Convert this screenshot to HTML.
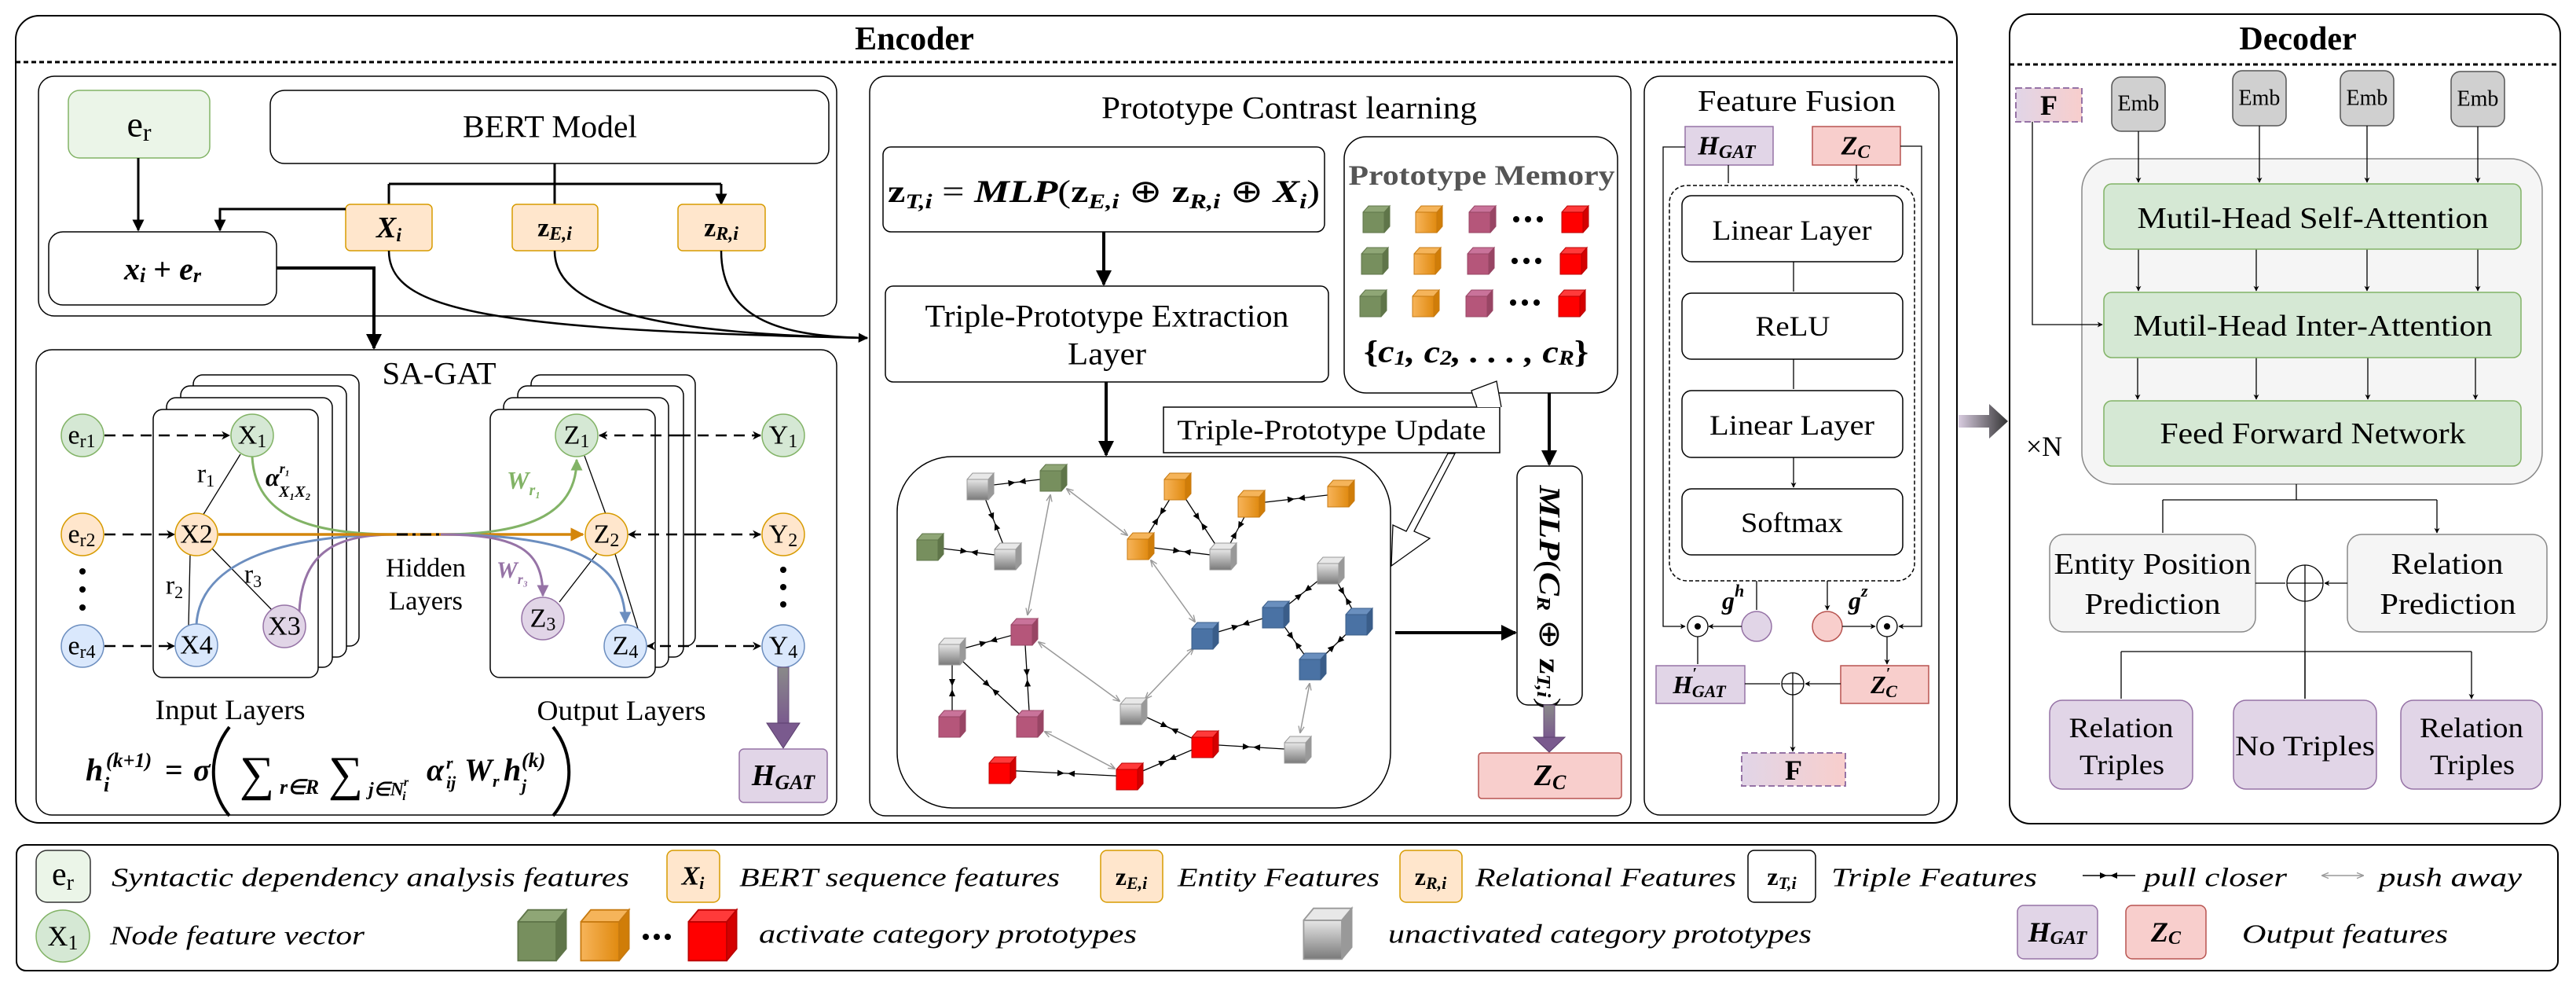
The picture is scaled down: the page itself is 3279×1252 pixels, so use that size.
<!DOCTYPE html>
<html><head><meta charset="utf-8"><style>
html,body{margin:0;padding:0;background:#fff}
svg{display:block}
text{font-family:"Liberation Serif",serif;fill:#000}
.m{font-style:italic;font-weight:bold}
</style></head><body>
<svg width="3279" height="1252" viewBox="0 0 3279 1252" xmlns="http://www.w3.org/2000/svg">
<defs>
<marker id="ab" viewBox="0 0 10 10" refX="9" refY="5" markerWidth="5" markerHeight="5" orient="auto"><path d="M0,0L10,5L0,10z" fill="#000"/></marker>
<marker id="as" viewBox="0 0 10 10" refX="9" refY="5" markerWidth="7" markerHeight="7" markerUnits="userSpaceOnUse" orient="auto"><path d="M0,0L10,5L0,10L3,5z" fill="#000"/></marker>
<marker id="ad" viewBox="0 0 10 10" refX="9" refY="5" markerWidth="11" markerHeight="11" markerUnits="userSpaceOnUse" orient="auto"><path d="M0,0L10,5L0,10L3,5z" fill="#000"/></marker>
<marker id="ag" viewBox="0 0 10 10" refX="9" refY="5" markerWidth="5" markerHeight="5" orient="auto"><path d="M0,0L10,5L0,10z" fill="#82b366"/></marker>
<marker id="ao" viewBox="0 0 10 10" refX="9" refY="5" markerWidth="5" markerHeight="5" orient="auto"><path d="M0,0L10,5L0,10z" fill="#d4860b"/></marker>
<marker id="abl" viewBox="0 0 10 10" refX="9" refY="5" markerWidth="5" markerHeight="5" orient="auto"><path d="M0,0L10,5L0,10z" fill="#6c8ebf"/></marker>
<marker id="ap" viewBox="0 0 10 10" refX="9" refY="5" markerWidth="5" markerHeight="5" orient="auto"><path d="M0,0L10,5L0,10z" fill="#9673a6"/></marker>
<marker id="pull" viewBox="-12 -5 24 10" refX="0" refY="0" markerWidth="24" markerHeight="10" markerUnits="userSpaceOnUse" orient="auto"><path d="M-11,-4L-2,0L-11,4z M11,-4L2,0L11,4z" fill="#000"/></marker>
<marker id="gp" viewBox="0 0 10 10" refX="9" refY="5" markerWidth="9" markerHeight="9" markerUnits="userSpaceOnUse" orient="auto-start-reverse"><path d="M0,1L10,5L0,9" fill="none" stroke="#999" stroke-width="1.5"/></marker>
<linearGradient id="gGray" x1="0" y1="0" x2="0" y2="1"><stop offset="0" stop-color="#e6e6e6"/><stop offset="1" stop-color="#7a7a7a"/></linearGradient>
<linearGradient id="gOr" x1="0" y1="0" x2="1" y2="0"><stop offset="0" stop-color="#f7b45a"/><stop offset="1" stop-color="#e08a10"/></linearGradient>
<linearGradient id="gF" x1="0" y1="0" x2="1" y2="0"><stop offset="0" stop-color="#e1d5e7"/><stop offset="1" stop-color="#f8cecc"/></linearGradient>
<linearGradient id="gArr" x1="0" y1="0" x2="0" y2="1"><stop offset="0" stop-color="#8a8a8a"/><stop offset="1" stop-color="#7a5a8e"/></linearGradient>
<linearGradient id="gDec" x1="0" y1="0" x2="1" y2="0"><stop offset="0" stop-color="#d8cce0"/><stop offset="1" stop-color="#333"/></linearGradient>
<g id="cG"><path d="M-17,-9h27v26h-27z" fill="#778f5e"/><path d="M-17,-9l7,-8h27l-7,8z" fill="#8fa676"/><path d="M10,-9l7,-8v26l-7,8z" fill="#5f7549"/><path d="M-17,-9h27v26h-27zM-17,-9l7,-8h27l-7,8M10,-9l7,-8v26l-7,8" fill="none" stroke="#5f7549" stroke-width="1"/></g>
<g id="cO"><path d="M-17,-9h27v26h-27z" fill="url(#gOr)"/><path d="M-17,-9l7,-8h27l-7,8z" fill="#f5b45a"/><path d="M10,-9l7,-8v26l-7,8z" fill="#d07d08"/><path d="M-17,-9h27v26h-27zM-17,-9l7,-8h27l-7,8M10,-9l7,-8v26l-7,8" fill="none" stroke="#c77a10" stroke-width="1"/></g>
<g id="cP"><path d="M-17,-9h27v26h-27z" fill="#b5567a"/><path d="M-17,-9l7,-8h27l-7,8z" fill="#c9739a"/><path d="M10,-9l7,-8v26l-7,8z" fill="#984564"/><path d="M-17,-9h27v26h-27zM-17,-9l7,-8h27l-7,8M10,-9l7,-8v26l-7,8" fill="none" stroke="#984564" stroke-width="1"/></g>
<g id="cR"><path d="M-17,-9h27v26h-27z" fill="#ff0000"/><path d="M-17,-9l7,-8h27l-7,8z" fill="#ff3a3a"/><path d="M10,-9l7,-8v26l-7,8z" fill="#d40000"/><path d="M-17,-9h27v26h-27zM-17,-9l7,-8h27l-7,8M10,-9l7,-8v26l-7,8" fill="none" stroke="#b00" stroke-width="1"/></g>
<g id="cB"><path d="M-17,-9h27v26h-27z" fill="#4a72a4"/><path d="M-17,-9l7,-8h27l-7,8z" fill="#6a8fbe"/><path d="M10,-9l7,-8v26l-7,8z" fill="#3a5d89"/><path d="M-17,-9h27v26h-27zM-17,-9l7,-8h27l-7,8M10,-9l7,-8v26l-7,8" fill="none" stroke="#3a5d89" stroke-width="1"/></g>
<g id="cY"><path d="M-17,-9h27v26h-27z" fill="url(#gGray)"/><path d="M-17,-9l7,-8h27l-7,8z" fill="#e8e8e8"/><path d="M10,-9l7,-8v26l-7,8z" fill="#999"/><path d="M-17,-9h27v26h-27zM-17,-9l7,-8h27l-7,8M10,-9l7,-8v26l-7,8" fill="none" stroke="#999" stroke-width="1"/></g>
</defs>

<!-- ENCODER -->
<rect x="20" y="20" width="2471" height="1027" rx="30" fill="#fff" stroke="#000" stroke-width="2"/>
<line x1="20" y1="79" x2="2491" y2="79" stroke="#000" stroke-width="3" stroke-dasharray="6,4"/>
<text x="1164" y="50" font-size="42" font-weight="bold" text-anchor="middle" dominant-baseline="central">Encoder</text>

<!-- top inner -->
<rect x="49" y="97" width="1016" height="305" rx="20" fill="none" stroke="#000" stroke-width="1.5"/>
<rect x="87" y="115" width="180" height="86" rx="14" fill="#ebf5e8" stroke="#82b366" stroke-width="1.5"/>
<text x="177" y="158" font-size="46" text-anchor="middle" dominant-baseline="central">e<tspan font-size="32" dy="10">r</tspan></text>
<rect x="344" y="115" width="711" height="93" rx="18" fill="#fff" stroke="#000" stroke-width="1.5"/>
<text x="700" y="161" font-size="40" text-anchor="middle" dominant-baseline="central" textLength="222" lengthAdjust="spacingAndGlyphs">BERT Model</text>
<path d="M706,208V234M495,234H918M495,234V258M706,234V258M918,234V258" fill="none" stroke="#000" stroke-width="3"/>
<path d="M495,234V260M706,234V260M918,234V260" stroke="#000" stroke-width="3" marker-end="url(#ab)"/>
<rect x="440" y="260" width="110" height="59" rx="6" fill="#ffe6cc" stroke="#d79b00" stroke-width="1.5"/>
<text x="495" y="290" font-size="38" class="m" text-anchor="middle" dominant-baseline="central">X<tspan font-size="24" dy="10">i</tspan></text>
<rect x="652" y="260" width="109" height="59" rx="6" fill="#ffe6cc" stroke="#d79b00" stroke-width="1.5"/>
<text x="706" y="290" font-size="34" font-weight="bold" text-anchor="middle" dominant-baseline="central">z<tspan font-size="24" font-style="italic" dy="8">E,i</tspan></text>
<rect x="863" y="260" width="111" height="59" rx="6" fill="#ffe6cc" stroke="#d79b00" stroke-width="1.5"/>
<text x="918" y="290" font-size="34" font-weight="bold" text-anchor="middle" dominant-baseline="central">z<tspan font-size="24" font-style="italic" dy="8">R,i</tspan></text>
<rect x="62" y="295" width="290" height="93" rx="18" fill="#fff" stroke="#000" stroke-width="1.5"/>
<text x="207" y="342" font-size="40" class="m" text-anchor="middle" dominant-baseline="central">x<tspan font-size="26" dy="8">i</tspan><tspan dy="-8" font-style="normal"> + </tspan>e<tspan font-size="26" dy="8">r</tspan></text>
<path d="M176,201V293" stroke="#000" stroke-width="3" marker-end="url(#ab)"/>
<path d="M440,266H280V293" fill="none" stroke="#000" stroke-width="3" marker-end="url(#ab)"/>
<path d="M352,341H476V443" fill="none" stroke="#000" stroke-width="4" marker-end="url(#ab)"/>
<path d="M495,319C495,395 620,420 1104,430" fill="none" stroke="#000" stroke-width="2.5"/>
<path d="M706,319C706,400 860,425 1104,430" fill="none" stroke="#000" stroke-width="2.5"/>
<path d="M918,319C918,410 1000,428 1104,430" fill="none" stroke="#000" stroke-width="2.5" marker-end="url(#ab)"/>

<!-- SA-GAT -->
<rect x="46" y="445" width="1019" height="592" rx="20" fill="none" stroke="#000" stroke-width="1.5"/>
<text x="559" y="475" font-size="40" text-anchor="middle" dominant-baseline="central" textLength="145" lengthAdjust="spacingAndGlyphs">SA-GAT</text>
<g fill="#fff" stroke="#000" stroke-width="1.5">
<rect x="246" y="477" width="211" height="345" rx="12"/>
<rect x="230" y="491" width="211" height="345" rx="12"/>
<rect x="212" y="506" width="211" height="343" rx="12"/>
<rect x="195" y="521" width="210" height="341" rx="12"/>
<rect x="676" y="477" width="209" height="345" rx="12"/>
<rect x="659" y="491" width="211" height="345" rx="12"/>
<rect x="641" y="506" width="210" height="343" rx="12"/>
<rect x="624" y="521" width="210" height="341" rx="12"/>
</g>
<!-- graph lines -->
<g stroke="#000" stroke-width="1.3" fill="none">
<line x1="306" y1="578" x2="258" y2="656"/>
<line x1="242" y1="706" x2="240" y2="797"/>
<line x1="270" y1="698" x2="346" y2="776"/>
<line x1="744" y1="580" x2="771" y2="654"/>
<line x1="760" y1="704" x2="712" y2="766"/>
<line x1="783" y1="705" x2="812" y2="800"/>
</g>
<path d="M321,581C325,660 400,680 505,680" fill="none" stroke="#82b366" stroke-width="3"/>
<path d="M250,795C255,700 400,680 505,680" fill="none" stroke="#6c8ebf" stroke-width="3"/>
<path d="M381,778C385,700 430,680 505,680" fill="none" stroke="#9673a6" stroke-width="3"/>
<path d="M278,680H742" stroke="#d4860b" stroke-width="3.5" marker-end="url(#ao)"/>
<path d="M561,680C680,680 734,650 734,585" fill="none" stroke="#82b366" stroke-width="3" marker-end="url(#ag)"/>
<path d="M561,680C740,680 796,720 796,792" fill="none" stroke="#6c8ebf" stroke-width="3" marker-end="url(#abl)"/>
<path d="M561,680C660,680 691,700 691,758" fill="none" stroke="#9673a6" stroke-width="3" marker-end="url(#ap)"/>
<line x1="505" y1="680" x2="561" y2="680" stroke="#000" stroke-width="3" stroke-dasharray="14,6,4,6"/>
<!-- dashed arrows -->
<g stroke="#000" stroke-width="2.5" stroke-dasharray="14,9" fill="none">
<path d="M133,554H292" marker-end="url(#ad)"/>
<path d="M133,680H222" marker-end="url(#ad)"/>
<path d="M133,822H222" marker-end="url(#ad)"/>
<path d="M865,554H968" marker-end="url(#ad)"/><path d="M865,554H763" marker-end="url(#ad)"/>
<path d="M885,680H968" marker-end="url(#ad)"/><path d="M885,680H800" marker-end="url(#ad)"/>
<path d="M900,822H968" marker-end="url(#ad)"/><path d="M900,822H824" marker-end="url(#ad)"/>
</g>
<g stroke-width="1.5">
<circle cx="105" cy="554" r="27" fill="#d5e8d4" stroke="#82b366"/>
<circle cx="105" cy="680" r="27" fill="#ffe6cc" stroke="#d79b00"/>
<circle cx="105" cy="822" r="27" fill="#dae8fc" stroke="#6c8ebf"/>
<circle cx="321" cy="554" r="27" fill="#d5e8d4" stroke="#82b366"/>
<circle cx="250" cy="680" r="27" fill="#ffe6cc" stroke="#d79b00"/>
<circle cx="250" cy="821" r="27" fill="#dae8fc" stroke="#6c8ebf"/>
<circle cx="362" cy="797" r="27" fill="#e1d5e7" stroke="#9673a6"/>
<circle cx="734" cy="554" r="27" fill="#d5e8d4" stroke="#82b366"/>
<circle cx="772" cy="680" r="27" fill="#ffe6cc" stroke="#d79b00"/>
<circle cx="691" cy="787" r="27" fill="#e1d5e7" stroke="#9673a6"/>
<circle cx="796" cy="822" r="27" fill="#dae8fc" stroke="#6c8ebf"/>
<circle cx="997" cy="554" r="27" fill="#d5e8d4" stroke="#82b366"/>
<circle cx="997" cy="680" r="27" fill="#ffe6cc" stroke="#d79b00"/>
<circle cx="997" cy="822" r="27" fill="#dae8fc" stroke="#6c8ebf"/>
</g>
<g font-size="34" text-anchor="middle" dominant-baseline="central">
<text x="104" y="554">e<tspan font-size="24" dy="8">r1</tspan></text>
<text x="104" y="680">e<tspan font-size="24" dy="8">r2</tspan></text>
<text x="104" y="822">e<tspan font-size="24" dy="8">r4</tspan></text>
<text x="321" y="554">X<tspan font-size="24" dy="8">1</tspan></text>
<text x="250" y="680">X2</text>
<text x="250" y="821">X4</text>
<text x="362" y="797">X3</text>
<text x="734" y="554">Z<tspan font-size="24" dy="8">1</tspan></text>
<text x="772" y="680">Z<tspan font-size="24" dy="8">2</tspan></text>
<text x="691" y="787">Z<tspan font-size="24" dy="8">3</tspan></text>
<text x="796" y="822">Z<tspan font-size="24" dy="8">4</tspan></text>
<text x="997" y="554">Y<tspan font-size="24" dy="8">1</tspan></text>
<text x="997" y="680">Y<tspan font-size="24" dy="8">2</tspan></text>
<text x="997" y="822">Y<tspan font-size="24" dy="8">4</tspan></text>
<text x="262" y="603">r<tspan font-size="22" dy="8">1</tspan></text>
<text x="222" y="745">r<tspan font-size="22" dy="8">2</tspan></text>
<text x="322" y="731">r<tspan font-size="22" dy="8">3</tspan></text>
<text x="542" y="723" textLength="102" lengthAdjust="spacingAndGlyphs">Hidden</text>
<text x="542" y="765" textLength="94" lengthAdjust="spacingAndGlyphs">Layers</text>
<text x="293" y="903" font-size="36" textLength="191" lengthAdjust="spacingAndGlyphs">Input Layers</text>
<text x="791" y="904" font-size="36" textLength="215" lengthAdjust="spacingAndGlyphs">Output Layers</text>
</g>
<g fill="#000"><circle cx="105" cy="727" r="4"/><circle cx="105" cy="750" r="4"/><circle cx="105" cy="773" r="4"/><circle cx="997" cy="725" r="4"/><circle cx="997" cy="747" r="4"/><circle cx="997" cy="769" r="4"/></g>
<text x="338" y="618" font-size="32" class="m">α<tspan font-size="18" dy="-16">r₁</tspan><tspan font-size="20" dx="-14" dy="30">X₁X₂</tspan></text>
<text x="645" y="622" font-size="32" class="m" fill="#82b366" style="fill:#82b366">W<tspan font-size="20" dy="8">r₁</tspan></text>
<text x="632" y="735" font-size="30" class="m" style="fill:#9673a6">W<tspan font-size="18" dy="8">r₃</tspan></text>
<!-- Y4 to HGAT arrow -->
<rect x="990" y="849" width="14" height="72" fill="url(#gArr)" stroke="#6b4f7e" stroke-width="1"/>
<path d="M976,920H1018L997,952z" fill="#7a5a8e" stroke="#5b3f6e" stroke-width="1"/>
<rect x="941" y="953" width="112" height="68" rx="6" fill="#e1d5e7" stroke="#9673a6" stroke-width="1.5"/>
<text x="997" y="987" font-size="38" class="m" text-anchor="middle" dominant-baseline="central">H<tspan font-size="26" dy="8">GAT</tspan></text>
<!-- formula -->
<g class="m" font-size="40">
<text x="109" y="993">h</text>
<text x="135" y="976" font-size="26">(k+1)</text>
<text x="132" y="1007" font-size="26">i</text>
<text x="210" y="993" font-style="normal">=</text>
<text x="246" y="993">σ</text>
<path d="M292,925C265,960 265,1005 292,1038" fill="none" stroke="#000" stroke-width="4"/>
<text x="305" y="1005" font-size="62" font-style="normal" font-weight="normal">∑</text>
<text x="356" y="1010" font-size="26">r∈R</text>
<text x="418" y="1005" font-size="62" font-style="normal" font-weight="normal">∑</text>
<text x="469" y="1012" font-size="24">j∈N<tspan font-size="16" dy="-12">r</tspan><tspan font-size="16" dx="-8" dy="18">i</tspan></text>
<text x="543" y="993">α</text>
<text x="568" y="978" font-size="22">r</text>
<text x="568" y="1003" font-size="22">ij</text>
<text x="591" y="993">W</text>
<text x="627" y="1001" font-size="22">r</text>
<text x="641" y="993">h</text>
<text x="664" y="976" font-size="26">(k)</text>
<text x="664" y="1007" font-size="22">j</text>
<path d="M704,925C731,960 731,1005 704,1038" fill="none" stroke="#000" stroke-width="4"/>
</g>

<!-- PROTOTYPE CONTRAST LEARNING -->
<rect x="1107" y="97" width="969" height="941" rx="20" fill="none" stroke="#000" stroke-width="1.5"/>
<text x="1641" y="137" font-size="40" text-anchor="middle" dominant-baseline="central" textLength="478" lengthAdjust="spacingAndGlyphs">Prototype Contrast learning</text>
<rect x="1124" y="187" width="562" height="108" rx="10" fill="#fff" stroke="#000" stroke-width="1.5"/>
<text x="1130" y="257" font-size="40" font-weight="bold" textLength="550" lengthAdjust="spacingAndGlyphs">z<tspan class="m" font-size="26" dy="8">T,i</tspan><tspan dy="-8" font-weight="normal"> = </tspan><tspan class="m">MLP</tspan><tspan font-weight="normal">(</tspan>z<tspan class="m" font-size="26" dy="8">E,i</tspan><tspan dy="-8" font-weight="normal"> ⊕ </tspan>z<tspan class="m" font-size="26" dy="8">R,i</tspan><tspan dy="-8" font-weight="normal"> ⊕ </tspan><tspan class="m">X</tspan><tspan class="m" font-size="26" dy="8">i</tspan><tspan dy="-8" font-weight="normal">)</tspan></text>
<path d="M1405,295V362" stroke="#000" stroke-width="4" marker-end="url(#ab)"/>
<rect x="1127" y="364" width="564" height="122" rx="10" fill="#fff" stroke="#000" stroke-width="1.5"/>
<text x="1409" y="402" font-size="40" text-anchor="middle" dominant-baseline="central" textLength="463" lengthAdjust="spacingAndGlyphs">Triple-Prototype Extraction</text>
<text x="1409" y="450" font-size="40" text-anchor="middle" dominant-baseline="central" textLength="100" lengthAdjust="spacingAndGlyphs">Layer</text>
<path d="M1408,486V579" stroke="#000" stroke-width="4" marker-end="url(#ab)"/>
<!-- memory -->
<rect x="1711" y="174" width="348" height="326" rx="28" fill="#fff" stroke="#000" stroke-width="1.5"/>
<text x="1886" y="223" font-size="36" font-weight="bold" style="fill:#555" text-anchor="middle" dominant-baseline="central" textLength="339" lengthAdjust="spacingAndGlyphs">Prototype Memory</text>
<use href="#cG" x="1752" y="279"/><use href="#cO" x="1819" y="279"/><use href="#cP" x="1887" y="279"/><use href="#cR" x="2005" y="279"/>
<use href="#cG" x="1750" y="332"/><use href="#cO" x="1817" y="332"/><use href="#cP" x="1885" y="332"/><use href="#cR" x="2003" y="332"/>
<use href="#cG" x="1748" y="386"/><use href="#cO" x="1815" y="386"/><use href="#cP" x="1883" y="386"/><use href="#cR" x="2001" y="386"/>
<g fill="#000"><circle cx="1930" cy="279" r="4"/><circle cx="1945" cy="279" r="4"/><circle cx="1960" cy="279" r="4"/><circle cx="1928" cy="332" r="4"/><circle cx="1943" cy="332" r="4"/><circle cx="1958" cy="332" r="4"/><circle cx="1926" cy="385" r="4"/><circle cx="1941" cy="385" r="4"/><circle cx="1956" cy="385" r="4"/></g>
<text x="1879" y="447" font-size="40" class="m" text-anchor="middle" dominant-baseline="central" textLength="286" lengthAdjust="spacingAndGlyphs"><tspan font-style="normal">{</tspan>c<tspan font-size="26" dy="8">1</tspan><tspan dy="-8">, c</tspan><tspan font-size="26" dy="8">2</tspan><tspan dy="-8">, . . . , c</tspan><tspan font-size="26" dy="8">R</tspan><tspan dy="-8" font-style="normal">}</tspan></text>
<path d="M1972,500V591" stroke="#000" stroke-width="4" marker-end="url(#ab)"/>
<!-- update box -->
<rect x="1481" y="518" width="428" height="58" fill="#fff" stroke="#000" stroke-width="1.5"/>
<text x="1695" y="547" font-size="36" text-anchor="middle" dominant-baseline="central" textLength="393" lengthAdjust="spacingAndGlyphs">Triple-Prototype Update</text>
<path d="M1880,518L1875,504L1873,497L1905,485L1911,518" fill="#fff" stroke="#000" stroke-width="1.3"/>
<path d="M1852,577L1800,676L1820,685L1771,720L1773,668L1790,676L1843,577z" fill="#fff" stroke="#000" stroke-width="1.3"/>
<!-- graph box -->
<rect x="1142" y="581" width="628" height="447" rx="70" fill="none" stroke="#000" stroke-width="1.5"/>
<g stroke="#000" stroke-width="1.3" fill="none" marker-mid="url(#pull)">
<polyline points="1248,619 1294.5,613.5 1341,608"/>
<polyline points="1248,619 1265.5,663.5 1283,708"/>
<polyline points="1184,696 1233.5,702 1283,708"/>
<polyline points="1499,619 1475.5,657 1452,695"/>
<polyline points="1499,619 1528,663.5 1557,708"/>
<polyline points="1593,641 1575,674.5 1557,708"/>
<polyline points="1593,641 1650,634.5 1707,628"/>
<polyline points="1452,695 1504.5,701.5 1557,708"/>
<polyline points="1694,726 1659,754 1624,782"/>
<polyline points="1694,726 1712,758.5 1730,791"/>
<polyline points="1624,782 1579,795.5 1534,809"/>
<polyline points="1624,782 1647.5,815 1671,848"/>
<polyline points="1730,791 1700.5,819.5 1671,848"/>
<polyline points="1304,804 1258,816.5 1212,829"/>
<polyline points="1304,804 1307.5,862.5 1311,921"/>
<polyline points="1212,829 1212,875 1212,921"/>
<polyline points="1212,829 1261.5,875 1311,921"/>
<polyline points="1443,905 1488.5,926 1534,947"/>
<polyline points="1534,947 1486,967.5 1438,988"/>
<polyline points="1534,947 1593,950.5 1652,954"/>
<polyline points="1276,980 1357,984 1438,988"/>
</g>
<g stroke="#999" stroke-width="1.5" marker-start="url(#gp)" marker-end="url(#gp)">
<line x1="1358" y1="622" x2="1435" y2="681"/>
<line x1="1337" y1="630" x2="1308" y2="782"/>
<line x1="1465" y1="713" x2="1521" y2="791"/>
<line x1="1519" y1="825" x2="1458" y2="889"/>
<line x1="1322" y1="817" x2="1425" y2="892"/>
<line x1="1330" y1="931" x2="1419" y2="978"/>
<line x1="1667" y1="870" x2="1655" y2="932"/>
</g>
<use href="#cY" x="1248" y="619"/><use href="#cG" x="1341" y="608"/><use href="#cO" x="1499" y="619"/><use href="#cO" x="1593" y="641"/><use href="#cO" x="1707" y="628"/>
<use href="#cG" x="1184" y="696"/><use href="#cY" x="1283" y="708"/><use href="#cO" x="1452" y="695"/><use href="#cY" x="1557" y="708"/><use href="#cY" x="1694" y="726"/>
<use href="#cB" x="1624" y="782"/><use href="#cB" x="1730" y="791"/><use href="#cP" x="1304" y="804"/><use href="#cY" x="1212" y="829"/><use href="#cB" x="1534" y="809"/><use href="#cB" x="1671" y="848"/>
<use href="#cP" x="1212" y="921"/><use href="#cP" x="1311" y="921"/><use href="#cY" x="1443" y="905"/><use href="#cR" x="1534" y="947"/><use href="#cY" x="1652" y="954"/><use href="#cR" x="1276" y="980"/><use href="#cR" x="1438" y="988"/>
<path d="M1776,805H1929" stroke="#000" stroke-width="4" marker-end="url(#ab)"/>
<!-- MLP -->
<rect x="1931" y="593" width="83" height="304" rx="14" fill="#fff" stroke="#000" stroke-width="1.5"/>
<text transform="translate(1972,760) rotate(90)" font-size="38" class="m" text-anchor="middle" dominant-baseline="central" textLength="285" lengthAdjust="spacingAndGlyphs">MLP<tspan font-style="normal" font-weight="normal">(</tspan>C<tspan font-size="24" dy="8">R</tspan><tspan dy="-8" font-style="normal" font-weight="normal"> ⊕ </tspan><tspan font-style="normal">z</tspan><tspan font-size="24" dy="8">T,i</tspan><tspan dy="-8" font-style="normal" font-weight="normal">)</tspan></text>
<rect x="1965" y="897" width="14" height="42" fill="url(#gArr)" stroke="#6b4f7e" stroke-width="1"/>
<path d="M1952,938H1992L1972,957z" fill="#7a5a8e" stroke="#5b3f6e" stroke-width="1"/>
<rect x="1882" y="958" width="182" height="58" rx="4" fill="#f8cecc" stroke="#b85450" stroke-width="1.5"/>
<text x="1973" y="987" font-size="38" class="m" text-anchor="middle" dominant-baseline="central">Z<tspan font-size="26" dy="8">C</tspan></text>

<!-- FEATURE FUSION -->
<rect x="2093" y="97" width="375" height="940" rx="20" fill="none" stroke="#000" stroke-width="1.5"/>
<text x="2287" y="129" font-size="38" text-anchor="middle" dominant-baseline="central" textLength="252" lengthAdjust="spacingAndGlyphs">Feature Fusion</text>
<rect x="2145" y="161" width="112" height="49" fill="#e1d5e7" stroke="#9673a6" stroke-width="1.5"/>
<text x="2198" y="186" font-size="34" class="m" text-anchor="middle" dominant-baseline="central">H<tspan font-size="24" dy="8">GAT</tspan></text>
<rect x="2307" y="161" width="112" height="49" fill="#f8cecc" stroke="#b85450" stroke-width="1.5"/>
<text x="2362" y="186" font-size="34" class="m" text-anchor="middle" dominant-baseline="central">Z<tspan font-size="24" dy="8">C</tspan></text>
<path d="M2200,210V233M2363,210V233" stroke="#000" stroke-width="1.3" marker-end="url(#as)"/>
<rect x="2125" y="236" width="312" height="503" rx="22" fill="none" stroke="#000" stroke-width="1.5" stroke-dasharray="5,3"/>
<g fill="#fff" stroke="#000" stroke-width="1.5">
<rect x="2141" y="249" width="281" height="84" rx="12"/>
<rect x="2141" y="373" width="281" height="84" rx="12"/>
<rect x="2141" y="497" width="281" height="85" rx="12"/>
<rect x="2141" y="622" width="281" height="84" rx="12"/>
</g>
<g font-size="36" text-anchor="middle" dominant-baseline="central">
<text x="2281" y="293" textLength="203" lengthAdjust="spacingAndGlyphs">Linear Layer</text>
<text x="2282" y="415" textLength="95" lengthAdjust="spacingAndGlyphs">ReLU</text>
<text x="2281" y="541" textLength="210" lengthAdjust="spacingAndGlyphs">Linear Layer</text>
<text x="2281" y="665" textLength="130" lengthAdjust="spacingAndGlyphs">Softmax</text>
</g>
<path d="M2283,333V371M2283,457V495M2283,582V620" stroke="#000" stroke-width="1.3" marker-end="url(#as)"/>
<path d="M2236,739V776M2326,739V776" stroke="#000" stroke-width="1.3" marker-end="url(#as)"/>
<circle cx="2236" cy="797" r="19" fill="#e1d5e7" stroke="#9673a6" stroke-width="1.5"/>
<circle cx="2326" cy="797" r="19" fill="#f8cecc" stroke="#b85450" stroke-width="1.5"/>
<text x="2192" y="775" font-size="32" class="m">g<tspan font-size="22" dy="-16">h</tspan></text>
<text x="2353" y="775" font-size="32" class="m">g<tspan font-size="22" dy="-16">z</tspan></text>
<path d="M2145,187H2117V797H2145" fill="none" stroke="#000" stroke-width="1.3" marker-end="url(#as)"/>
<path d="M2419,186H2446V797H2417" fill="none" stroke="#000" stroke-width="1.3" marker-end="url(#as)"/>
<path d="M2217,797H2175" stroke="#000" stroke-width="1.3" marker-end="url(#as)"/>
<path d="M2345,797H2387" stroke="#000" stroke-width="1.3" marker-end="url(#as)"/>
<circle cx="2161" cy="797" r="13" fill="#fff" stroke="#000" stroke-width="1.3"/><circle cx="2161" cy="797" r="4"/>
<circle cx="2402" cy="797" r="13" fill="#fff" stroke="#000" stroke-width="1.3"/><circle cx="2402" cy="797" r="4"/>
<path d="M2161,810V845M2402,810V845" stroke="#000" stroke-width="1.3" marker-end="url(#as)"/>
<rect x="2108" y="847" width="113" height="48" fill="#e1d5e7" stroke="#9673a6" stroke-width="1.5"/>
<text x="2163" y="871" font-size="32" class="m" text-anchor="middle" dominant-baseline="central">H<tspan font-size="20" dy="-14">′</tspan><tspan font-size="22" dx="-6" dy="22">GAT</tspan></text>
<rect x="2343" y="847" width="112" height="48" fill="#f8cecc" stroke="#b85450" stroke-width="1.5"/>
<text x="2398" y="871" font-size="32" class="m" text-anchor="middle" dominant-baseline="central">Z<tspan font-size="20" dy="-14">′</tspan><tspan font-size="22" dx="-6" dy="22">C</tspan></text>
<path d="M2221,870H2266M2343,870H2298" stroke="#000" stroke-width="1.3" marker-end="url(#as)"/>
<circle cx="2282" cy="870" r="14" fill="#fff" stroke="#000" stroke-width="1.3"/>
<path d="M2268,870H2296M2282,856V884" stroke="#000" stroke-width="1.3"/>
<path d="M2282,884V956" stroke="#000" stroke-width="1.3" marker-end="url(#as)"/>
<rect x="2217" y="958" width="132" height="42" fill="url(#gF)" stroke="#9673a6" stroke-width="2" stroke-dasharray="8,4"/>
<text x="2283" y="980" font-size="36" font-weight="bold" text-anchor="middle" dominant-baseline="central">F</text>

<!-- big arrow to decoder -->
<path d="M2493,528H2532V514L2556,536L2532,558V544H2493z" fill="url(#gDec)"/>

<!-- DECODER -->
<rect x="2558" y="18" width="701" height="1030" rx="26" fill="#fff" stroke="#000" stroke-width="2"/>
<line x1="2558" y1="82" x2="3259" y2="82" stroke="#000" stroke-width="3" stroke-dasharray="6,4"/>
<text x="2925" y="50" font-size="42" font-weight="bold" text-anchor="middle" dominant-baseline="central">Decoder</text>
<rect x="2566" y="112" width="84" height="43" fill="url(#gF)" stroke="#9673a6" stroke-width="2" stroke-dasharray="8,4"/>
<text x="2608" y="134" font-size="36" font-weight="bold" text-anchor="middle" dominant-baseline="central">F</text>
<g fill="#d0d0d0" stroke="#555" stroke-width="1.5">
<rect x="2688" y="98" width="68" height="69" rx="12"/>
<rect x="2842" y="90" width="68" height="70" rx="12"/>
<rect x="2979" y="90" width="68" height="70" rx="12"/>
<rect x="3120" y="91" width="68" height="70" rx="12"/>
</g>
<g font-size="28" text-anchor="middle" dominant-baseline="central">
<text x="2722" y="132">Emb</text><text x="2876" y="125">Emb</text><text x="3013" y="125">Emb</text><text x="3154" y="126">Emb</text>
</g>
<rect x="2650" y="202" width="586" height="414" rx="40" fill="#f5f5f5" stroke="#888" stroke-width="1.5"/>
<g stroke="#000" stroke-width="1.3" marker-end="url(#as)">
<path d="M2722,167V232"/><path d="M2876,160V232"/><path d="M3013,160V232"/><path d="M3154,161V232"/>
<path d="M2722,317V370"/><path d="M2872,317V370"/><path d="M3013,317V370"/><path d="M3154,317V370"/>
<path d="M2721,455V508"/><path d="M2872,455V508"/><path d="M3014,455V508"/><path d="M3151,455V508"/>
</g>
<g fill="#d5e8d4" stroke="#82b366" stroke-width="1.5">
<rect x="2678" y="234" width="531" height="83" rx="10"/>
<rect x="2678" y="372" width="531" height="83" rx="10"/>
<rect x="2678" y="510" width="531" height="83" rx="10"/>
</g>
<g font-size="38" text-anchor="middle" dominant-baseline="central">
<text x="2944" y="278" textLength="447" lengthAdjust="spacingAndGlyphs">Mutil-Head Self-Attention</text>
<text x="2944" y="415" textLength="457" lengthAdjust="spacingAndGlyphs">Mutil-Head Inter-Attention</text>
<text x="2944" y="552" textLength="389" lengthAdjust="spacingAndGlyphs">Feed Forward Network</text>
</g>
<path d="M2587,155V413H2676" fill="none" stroke="#000" stroke-width="1.3" marker-end="url(#as)"/>
<text x="2602" y="568" font-size="36" text-anchor="middle" dominant-baseline="central">×N</text>
<path d="M2923,616V636M2753,636H3102" fill="none" stroke="#000" stroke-width="1.3"/>
<path d="M2753,636V678M3102,636V678" stroke="#000" stroke-width="1.3" marker-end="url(#as)"/>
<g fill="#f5f5f5" stroke="#888" stroke-width="1.5">
<rect x="2609" y="680" width="262" height="124" rx="18"/>
<rect x="2988" y="680" width="254" height="124" rx="18"/>
</g>
<g font-size="38" text-anchor="middle" dominant-baseline="central">
<text x="2740" y="718" textLength="251" lengthAdjust="spacingAndGlyphs">Entity Position</text>
<text x="2740" y="769" textLength="173" lengthAdjust="spacingAndGlyphs">Prediction</text>
<text x="3115" y="718" textLength="143" lengthAdjust="spacingAndGlyphs">Relation</text>
<text x="3116" y="769" textLength="173" lengthAdjust="spacingAndGlyphs">Prediction</text>
</g>
<path d="M2871,742H2909M2988,742H2959" stroke="#000" stroke-width="1.3" marker-end="url(#as)"/>
<ellipse cx="2934" cy="742" rx="23" ry="23" fill="#fff" stroke="#000" stroke-width="1.3"/>
<path d="M2911,742H2957M2934,719V765" stroke="#000" stroke-width="1.3"/>
<path d="M2934,765V889M2700,829H3146" fill="none" stroke="#000" stroke-width="1.3"/>
<path d="M2934,829V889M2700,829V889M3146,829V889" stroke="#000" stroke-width="1.3" marker-end="url(#as)"/>
<g fill="#e1d5e7" stroke="#9673a6" stroke-width="1.5">
<rect x="2609" y="891" width="182" height="113" rx="16"/>
<rect x="2843" y="891" width="182" height="113" rx="16"/>
<rect x="3056" y="891" width="180" height="113" rx="16"/>
</g>
<g font-size="36" text-anchor="middle" dominant-baseline="central">
<text x="2700" y="926" textLength="133" lengthAdjust="spacingAndGlyphs">Relation</text>
<text x="2701" y="973" textLength="108" lengthAdjust="spacingAndGlyphs">Triples</text>
<text x="2934" y="949" textLength="178" lengthAdjust="spacingAndGlyphs">No Triples</text>
<text x="3146" y="926" textLength="132" lengthAdjust="spacingAndGlyphs">Relation</text>
<text x="3147" y="973" textLength="108" lengthAdjust="spacingAndGlyphs">Triples</text>
</g>

<!-- LEGEND -->
<rect x="21" y="1075" width="3235" height="160" rx="12" fill="none" stroke="#000" stroke-width="2"/>
<rect x="46" y="1082" width="69" height="66" rx="14" fill="#ebf5e8" stroke="#333" stroke-width="1.5"/>
<text x="80" y="1113" font-size="42" text-anchor="middle" dominant-baseline="central">e<tspan font-size="28" dy="10">r</tspan></text>
<g font-size="34" font-style="italic" dominant-baseline="central">
<text x="142" y="1117" textLength="659" lengthAdjust="spacingAndGlyphs">Syntactic dependency analysis features</text>
<text x="941" y="1117" textLength="408" lengthAdjust="spacingAndGlyphs">BERT sequence features</text>
<text x="1499" y="1117" textLength="257" lengthAdjust="spacingAndGlyphs">Entity Features</text>
<text x="1878" y="1117" textLength="332" lengthAdjust="spacingAndGlyphs">Relational Features</text>
<text x="2331" y="1117" textLength="262" lengthAdjust="spacingAndGlyphs">Triple Features</text>
<text x="2729" y="1117" textLength="182" lengthAdjust="spacingAndGlyphs">pull closer</text>
<text x="3028" y="1117" textLength="182" lengthAdjust="spacingAndGlyphs">push away</text>
<text x="140" y="1191" textLength="324" lengthAdjust="spacingAndGlyphs">Node feature vector</text>
<text x="966" y="1189" textLength="481" lengthAdjust="spacingAndGlyphs">activate category prototypes</text>
<text x="1767" y="1189" textLength="539" lengthAdjust="spacingAndGlyphs">unactivated category prototypes</text>
<text x="2854" y="1189" textLength="262" lengthAdjust="spacingAndGlyphs">Output features</text>
</g>
<rect x="849" y="1082" width="67" height="66" rx="8" fill="#ffe6cc" stroke="#d79b00" stroke-width="1.5"/>
<text x="882" y="1115" font-size="34" class="m" text-anchor="middle" dominant-baseline="central">X<tspan font-size="22" dy="8">i</tspan></text>
<rect x="1401" y="1082" width="79" height="66" rx="8" fill="#ffe6cc" stroke="#d79b00" stroke-width="1.5"/>
<text x="1440" y="1115" font-size="32" font-weight="bold" text-anchor="middle" dominant-baseline="central">z<tspan font-size="22" font-style="italic" dy="8">E,i</tspan></text>
<rect x="1782" y="1082" width="79" height="66" rx="8" fill="#ffe6cc" stroke="#d79b00" stroke-width="1.5"/>
<text x="1821" y="1115" font-size="32" font-weight="bold" text-anchor="middle" dominant-baseline="central">z<tspan font-size="22" font-style="italic" dy="8">R,i</tspan></text>
<rect x="2225" y="1082" width="86" height="66" rx="8" fill="#fff" stroke="#000" stroke-width="1.5"/>
<text x="2268" y="1115" font-size="32" font-weight="bold" text-anchor="middle" dominant-baseline="central">z<tspan font-size="22" font-style="italic" dy="8">T,i</tspan></text>
<polyline points="2651,1114 2684,1114 2718,1114" stroke="#000" stroke-width="1.5" fill="none" marker-mid="url(#pull)"/>
<line x1="2956" y1="1114" x2="3008" y2="1114" stroke="#999" stroke-width="1.5" marker-start="url(#gp)" marker-end="url(#gp)"/>
<ellipse cx="80" cy="1191" rx="34" ry="33" fill="#d5e8d4" stroke="#82b366" stroke-width="1.5"/>
<text x="80" y="1191" font-size="36" text-anchor="middle" dominant-baseline="central">X<tspan font-size="26" dy="8">1</tspan></text>
<g transform="translate(690,1190) scale(1.8,1.9)"><use href="#cG"/></g>
<g transform="translate(770,1190) scale(1.8,1.9)"><use href="#cO"/></g>
<g fill="#000"><circle cx="822" cy="1192" r="4"/><circle cx="836" cy="1192" r="4"/><circle cx="850" cy="1192" r="4"/></g>
<g transform="translate(907,1190) scale(1.8,1.9)"><use href="#cR"/></g>
<g transform="translate(1690,1188) scale(1.8,1.9)"><use href="#cY"/></g>
<rect x="2568" y="1152" width="102" height="68" rx="8" fill="#e1d5e7" stroke="#9673a6" stroke-width="1.5"/>
<text x="2619" y="1186" font-size="36" class="m" text-anchor="middle" dominant-baseline="central">H<tspan font-size="24" dy="8">GAT</tspan></text>
<rect x="2706" y="1152" width="102" height="68" rx="8" fill="#f8cecc" stroke="#b85450" stroke-width="1.5"/>
<text x="2757" y="1186" font-size="36" class="m" text-anchor="middle" dominant-baseline="central">Z<tspan font-size="24" dy="8">C</tspan></text>
</svg>
</body></html>
